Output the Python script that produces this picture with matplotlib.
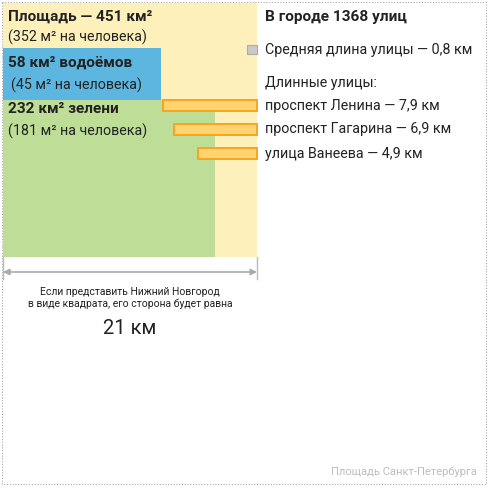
import numpy as np
import matplotlib
matplotlib.use("Agg")
import matplotlib.pyplot as plt
from matplotlib.patches import Rectangle

plt.rcParams['font.family'] = ['Roboto', 'DejaVu Sans']

# Данные
city_area = 451          # км²
water_area = 58          # км²
green_area = 232         # км²
area_per_person = [352, 45, 181]   # м² на человека
n_streets = 1368
avg_street = 0.8         # км
street_names = ["проспект Ленина", "проспект Гагарина", "улица Ванеева"]
street_len = [7.9, 6.9, 4.9]
side_label = "21 км"

def fmt(v):
    return "{:.1f}".format(v).replace(".", ",")

# Масштаб: сторона квадрата ~ 254 px
side = np.sqrt(city_area)
s = 254 / side           # px на км

def px(x):
    return (x - 3) / s

fig = plt.figure(figsize=(4.9, 4.9), dpi=100)
ax = fig.add_axes([0, 0, 1, 1])
ax.set_xlim(px(0), px(490))
ax.set_ylim(px(490), px(0))
ax.axis("off")

TXT = "#222222"
YEL = "#FEF0BA"
BLUE = "#5DB6DF"
GREEN = "#BEDE98"
FB = 11.1   # жирный
FR = 10.3   # обычный

# квадрат города
ax.add_patch(Rectangle((0, 0), side, side, facecolor=YEL, edgecolor="none"))
# зелень (снизу)
w_green = px(215)
h_green = green_area / w_green
ax.add_patch(Rectangle((0, side - h_green), w_green, h_green, facecolor=GREEN, edgecolor="none"))
# водоёмы (над зеленью)
w_water = px(161)
h_water = water_area / w_water
ax.add_patch(Rectangle((0, side - h_green - h_water), w_water, h_water, facecolor=BLUE, edgecolor="none"))

# подписи площадей
ax.text(px(8), px(17), "Площадь — {} км²".format(city_area), fontsize=FB, fontweight="bold",
        color=TXT, va="center")
ax.text(px(8), px(37), "({} м² на человека)".format(area_per_person[0]), fontsize=FR,
        color=TXT, va="center")
ax.text(px(8), px(63), "{} км² водоёмов".format(water_area), fontsize=FB, fontweight="bold",
        color=TXT, va="center")
ax.text(px(11), px(85), "({} м² на человека)".format(area_per_person[1]), fontsize=FR,
        color=TXT, va="center")
ax.text(px(8), px(109), "{} км² зелени".format(green_area), fontsize=FB, fontweight="bold",
        color=TXT, va="center")
ax.text(px(8), px(131), "({} м² на человека)".format(area_per_person[2]), fontsize=FR,
        color=TXT, va="center")

# улицы
bar_h = 10.5 / s
ax.barh([px(50)], [avg_street], left=side - avg_street, height=9 / s,
        color="#C9C9C9", edgecolor="#ABABAB", linewidth=0.8)
ys = [px(105.5), px(129.5), px(153.5)]
ax.barh(ys, street_len, left=[side - l for l in street_len], height=bar_h,
        color="#FFD46E", edgecolor="#F8A323", linewidth=1.4)

ax.text(px(265), px(17), "В городе {} улиц".format(n_streets), fontsize=FB, fontweight="bold",
        color=TXT, va="center")
ax.text(px(265), px(50), "Средняя длина улицы — {} км".format(fmt(avg_street)), fontsize=FR,
        color=TXT, va="center")
ax.text(px(265), px(83), "Длинные улицы:", fontsize=FR, color=TXT, va="center")
for y, name, l in zip(ys, street_names, street_len):
    ax.text(px(265), y, "{} — {} км".format(name, fmt(l)), fontsize=FR, color=TXT, va="center")

# размерная стрелка
ax.plot([side, side], [side, px(279)], color="#BBBBBB", lw=1)
ax.plot([0, 0], [side, px(279)], color="#BBBBBB", lw=1)
ax.annotate("", xy=(0, px(272)), xytext=(side, px(272)),
            arrowprops=dict(arrowstyle="<|-|>", color="#AAAAAA", lw=1.2,
                            mutation_scale=9, shrinkA=0, shrinkB=0))
ax.text(side / 2, px(292), "Если представить Нижний Новгород", fontsize=7.5,
        color=TXT, ha="center", va="center")
ax.text(side / 2, px(304), "в виде квадрата, его сторона будет равна", fontsize=7.5,
        color=TXT, ha="center", va="center")
ax.text(side / 2, px(328), side_label, fontsize=14.5, color=TXT, ha="center", va="center")

ax.text(px(477), px(472), "Площадь Санкт-Петербурга", fontsize=8, color="#BDBDBD",
        ha="right", va="center")

# пунктирная рамка
ax.add_patch(Rectangle((px(2), px(2)), px(486) - px(2), px(484) - px(2), facecolor="none",
                       edgecolor="#AAAAAA", linestyle=(0, (1, 1.5)), linewidth=0.8))

fig.savefig("out.png", dpi=100)
